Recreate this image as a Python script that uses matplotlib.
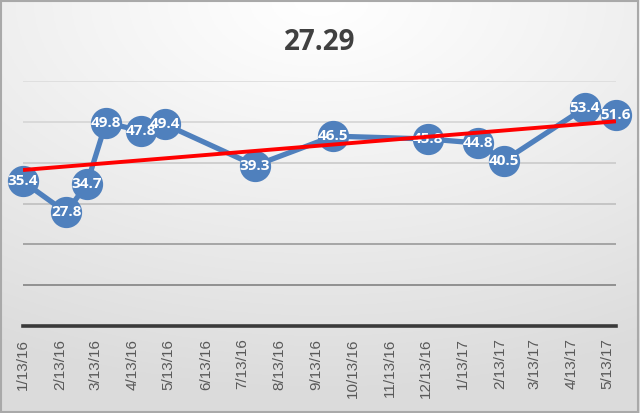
import numpy as np
import pandas as pd
import matplotlib
matplotlib.use("Agg")
import matplotlib.pyplot as plt
import matplotlib.dates as mdates
from matplotlib.patches import Rectangle

# ---- data ----
title = "27.29"
dates = ["2016-01-13", "2016-02-18", "2016-03-06", "2016-03-22", "2016-04-20",
         "2016-05-10", "2016-07-24", "2016-09-27", "2016-12-15", "2017-01-25",
         "2017-02-16", "2017-04-24", "2017-05-20"]
values = [35.4, 27.8, 34.7, 49.8, 47.8, 49.4, 39.3, 46.5, 45.8, 44.8, 40.5, 53.4, 51.6]
tick_labels = ["1/13/16", "2/13/16", "3/13/16", "4/13/16", "5/13/16", "6/13/16",
               "7/13/16", "8/13/16", "9/13/16", "10/13/16", "11/13/16", "12/13/16",
               "1/13/17", "2/13/17", "3/13/17", "4/13/17", "5/13/17"]
y_ticks = [0, 10, 20, 30, 40, 50, 60]

x = pd.to_datetime(dates)
xn = mdates.date2num(x)
tick_x = mdates.date2num(pd.to_datetime(tick_labels, format="%m/%d/%y"))

fig = plt.figure(figsize=(6.4, 4.13), dpi=100)

# background gradient
bg = fig.add_axes([0, 0, 1, 1], zorder=-10)
H, W = 200, 320
yy, xx = np.mgrid[0:1:H * 1j, 0:1:W * 1j]
r = np.sqrt(((xx - 0.5) * 1.0) ** 2 + ((yy - 0.0) * 1.1) ** 2)
shade = 1.0 - 0.14 * np.clip(r / 1.05, 0, 1) ** 1.1
bg.imshow(np.dstack([shade] * 3), extent=[0, 1, 0, 1], origin="upper", aspect="auto")
bg.add_patch(Rectangle((0.002, 0.003), 0.995, 0.994, transform=bg.transAxes,
                       fill=False, edgecolor="#a9a9a9", linewidth=1.5))
bg.set_axis_off()

ax = fig.add_axes([23 / 640, (413 - 326) / 413, (616 - 23) / 640, (326 - 81) / 413])
ax.patch.set_alpha(0)
ax.set_ylim(0, 60)
ax.set_xlim(xn[0], xn[-1])

grid_cols = {10: "#8a8a8a", 20: "#a0a0a0", 30: "#c2c2c2", 40: "#cdcdcd", 50: "#d7d7d7", 60: "#dedede"}
for yv in y_ticks[1:]:
    ax.axhline(yv, color=grid_cols[yv], linewidth=1.3, zorder=1)
ax.axhline(0, color="#3a3a3a", linewidth=2.6, zorder=2, clip_on=False)

for s in ax.spines.values():
    s.set_visible(False)
ax.set_yticks([])

ax.plot(xn, values, color="#4f80bd", linewidth=3.8, marker="o", markersize=21.5,
        markerfacecolor="#4f80bd", markeredgecolor="#4f80bd", zorder=3, clip_on=False)
for xi, v in zip(xn, values):
    ax.text(xi, v, f"{v:.1f}", ha="center", va="center", color="white",
            fontsize=11, fontweight="bold", family="Open Sans", zorder=4, clip_on=False)

coef = np.polyfit(xn - xn[0], values, 1)
tx = np.array([xn[0], xn[-1]])
ax.plot(tx, np.polyval(coef, tx - xn[0]), color="#ff0000", linewidth=2.8, zorder=5,
        solid_capstyle="butt")

ax.set_xticks(tick_x)
ax.set_xticklabels(tick_labels, rotation=90, fontsize=11, color="#595959",
                   family="Liberation Sans")
ax.tick_params(axis="x", length=0, pad=9)

fig.text(0.5, 1 - 42 / 413, title, ha="center", va="center", fontsize=20,
         fontweight="bold", color="#404040", family="Open Sans")

fig.savefig("out.png", dpi=100)
